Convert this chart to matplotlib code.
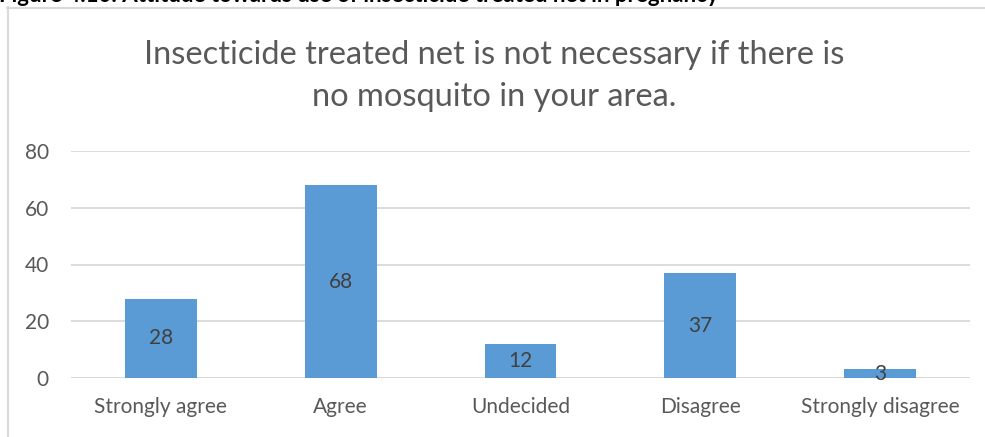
import matplotlib.pyplot as plt
from matplotlib.lines import Line2D

# responses to the statement
categories = ['Strongly agree', 'Agree', 'Undecided', 'Disagree', 'Strongly disagree']
counts = [28, 68, 12, 37, 3]
yticks = [0, 20, 40, 60, 80]

title = 'Insecticide treated net is not necessary if there is\nno mosquito in your area.'
caption = 'Figure 4.10: Attitude towards use of insecticide treated net in pregnancy'

W, H = 985, 437
plt.rcParams['font.family'] = ['Lato', 'DejaVu Sans']

fig = plt.figure(figsize=(W / 100, H / 100), dpi=100)
ax = fig.add_axes([71 / W, 1 - 378 / H, (970 - 71) / W, (378 - 151) / H])

x = range(len(categories))
bars = ax.bar(x, counts, width=0.4, color='#5B9BD5', zorder=3)
for b, v in zip(bars, counts):
    ax.text(b.get_x() + b.get_width() / 2, v / 2, str(v), ha='center', va='center',
            fontsize=15, color='#404040', zorder=4)

ax.set_xlim(-0.5, len(categories) - 0.5)
ax.set_ylim(0, 80)
ax.set_yticks(yticks)
ax.set_xticks(list(x))
ax.set_xticklabels(categories)
ax.tick_params(axis='both', length=0, labelsize=15, labelcolor='#595959')
ax.tick_params(axis='y', pad=16)
ax.tick_params(axis='x', pad=14)
ax.yaxis.grid(True, color='#D9D9D9', linewidth=1.3, zorder=0)
for s in ax.spines.values():
    s.set_visible(False)
ax.axhline(0, color='#D9D9D9', linewidth=1.3, zorder=2)

fig.text(494 / W, 1 - 76 / H, title, ha='center', va='center', fontsize=23.5,
         color='#595959', linespacing=1.47)

# chart frame and the caption line above it
fig.add_artist(Line2D([7.5 / W, 7.5 / W], [0, 1 - 7 / H], color='#D9D9D9', linewidth=1.5))
fig.add_artist(Line2D([7 / W, 1], [1 - 7.5 / H, 1 - 7.5 / H], color='#D9D9D9', linewidth=1.5))
fig.text(-1 / W, 1 - 2 / H, caption, ha='left', va='baseline', fontsize=16,
         fontweight='bold', color='black')

fig.savefig('out.png', dpi=100)
